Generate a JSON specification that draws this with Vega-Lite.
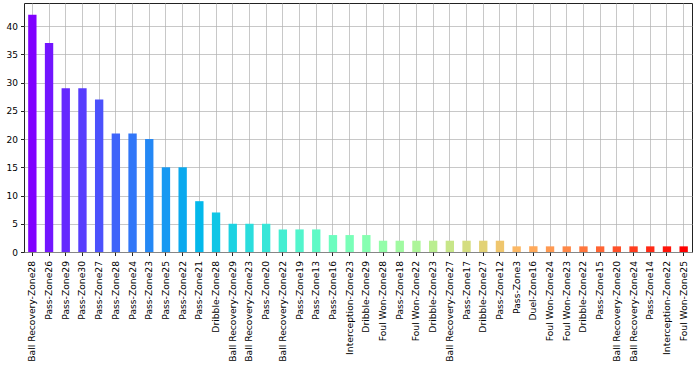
{
  "$schema": "https://vega.github.io/schema/vega-lite/v6.json",
  "width": 668,
  "height": 249,
  "autosize": {"type": "none"},
  "padding": {"left": 24, "top": 3, "right": 8, "bottom": 120},
  "background": "white",
  "config": {
    "view": {"stroke": "#222", "strokeWidth": 1},
    "font": "DejaVu Sans",
    "axis": {
      "labelFont": "DejaVu Sans",
      "labelFontSize": 9,
      "labelColor": "#000",
      "tickColor": "#222",
      "tickSize": 3.5,
      "grid": true,
      "gridColor": "#b0b0b0",
      "gridOpacity": 0.7,
      "gridWidth": 1,
      "domain": false,
      "title": null,
      "zindex": 1
    }
  },
  "data": {
    "values": [
      {"event": "Ball Recovery-Zone28", "count": 42},
      {"event": "Pass-Zone26", "count": 37},
      {"event": "Pass-Zone29", "count": 29},
      {"event": "Pass-Zone30", "count": 29},
      {"event": "Pass-Zone27", "count": 27},
      {"event": "Pass-Zone28", "count": 21},
      {"event": "Pass-Zone24", "count": 21},
      {"event": "Pass-Zone23", "count": 20},
      {"event": "Pass-Zone25", "count": 15},
      {"event": "Pass-Zone22", "count": 15},
      {"event": "Pass-Zone21", "count": 9},
      {"event": "Dribble-Zone28", "count": 7},
      {"event": "Ball Recovery-Zone29", "count": 5},
      {"event": "Ball Recovery-Zone23", "count": 5},
      {"event": "Pass-Zone20", "count": 5},
      {"event": "Ball Recovery-Zone22", "count": 4},
      {"event": "Pass-Zone19", "count": 4},
      {"event": "Pass-Zone13", "count": 4},
      {"event": "Pass-Zone16", "count": 3},
      {"event": "Interception-Zone23", "count": 3},
      {"event": "Dribble-Zone29", "count": 3},
      {"event": "Foul Won-Zone28", "count": 2},
      {"event": "Pass-Zone18", "count": 2},
      {"event": "Foul Won-Zone22", "count": 2},
      {"event": "Dribble-Zone23", "count": 2},
      {"event": "Ball Recovery-Zone27", "count": 2},
      {"event": "Pass-Zone17", "count": 2},
      {"event": "Dribble-Zone27", "count": 2},
      {"event": "Pass-Zone12", "count": 2},
      {"event": "Pass-Zone3", "count": 1},
      {"event": "Duel-Zone16", "count": 1},
      {"event": "Foul Won-Zone24", "count": 1},
      {"event": "Foul Won-Zone23", "count": 1},
      {"event": "Dribble-Zone22", "count": 1},
      {"event": "Pass-Zone15", "count": 1},
      {"event": "Ball Recovery-Zone20", "count": 1},
      {"event": "Ball Recovery-Zone24", "count": 1},
      {"event": "Pass-Zone14", "count": 1},
      {"event": "Interception-Zone22", "count": 1},
      {"event": "Foul Won-Zone25", "count": 1}
    ]
  },
  "mark": {"type": "bar"},
  "encoding": {
    "x": {
      "field": "event",
      "type": "nominal",
      "sort": null,
      "scale": {"paddingInner": 0.5, "paddingOuter": 0.25},
      "axis": {"labelAngle": -90, "bandPosition": 0.5, "labelPadding": 5, "labelFontSize": 9.2}
    },
    "y": {
      "field": "count",
      "type": "quantitative",
      "scale": {"domain": [0, 44.1], "nice": false},
      "axis": {"values": [0, 5, 10, 15, 20, 25, 30, 35, 40], "labelPadding": 3}
    },
    "color": {
      "field": "event",
      "type": "nominal",
      "legend": null,
      "scale": {
        "domain": ["Ball Recovery-Zone28", "Pass-Zone26", "Pass-Zone29", "Pass-Zone30", "Pass-Zone27", "Pass-Zone28", "Pass-Zone24", "Pass-Zone23", "Pass-Zone25", "Pass-Zone22", "Pass-Zone21", "Dribble-Zone28", "Ball Recovery-Zone29", "Ball Recovery-Zone23", "Pass-Zone20", "Ball Recovery-Zone22", "Pass-Zone19", "Pass-Zone13", "Pass-Zone16", "Interception-Zone23", "Dribble-Zone29", "Foul Won-Zone28", "Pass-Zone18", "Foul Won-Zone22", "Dribble-Zone23", "Ball Recovery-Zone27", "Pass-Zone17", "Dribble-Zone27", "Pass-Zone12", "Pass-Zone3", "Duel-Zone16", "Foul Won-Zone24", "Foul Won-Zone23", "Dribble-Zone22", "Pass-Zone15", "Ball Recovery-Zone20", "Ball Recovery-Zone24", "Pass-Zone14", "Interception-Zone22", "Foul Won-Zone25"],
        "range": ["#8000ff", "#7215ff", "#6529fe", "#583dfd", "#4b51fc", "#3e64fa", "#3176f8", "#2488f5", "#1799f2", "#0aa9ee", "#03b8eb", "#10c6e6", "#1dd2e2", "#2bdddd", "#38e6d8", "#45eed2", "#52f5cc", "#5ffac6", "#6cfdbf", "#79ffb8", "#86ffb1", "#93fda9", "#a0faa1", "#adf599", "#baee91", "#c7e688", "#d4dd80", "#e2d276", "#efc66d", "#fcb864", "#ffa95a", "#ff9951", "#ff8847", "#ff763d", "#ff6433", "#ff5129", "#ff3d1f", "#ff2915", "#ff150a", "#ff0000"]
      }
    }
  }
}
